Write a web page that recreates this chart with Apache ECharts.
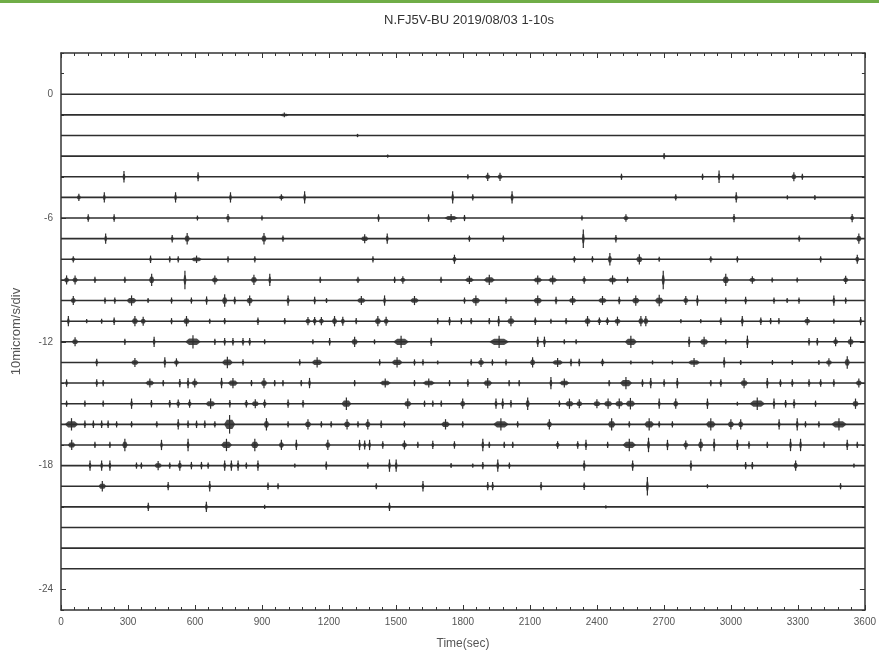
<!DOCTYPE html>
<html>
<head>
<meta charset="utf-8">
<style>
  html, body { margin: 0; padding: 0; background: #fff; }
  #chart { width: 879px; height: 655px; }
</style>
<script src="https://cdn.jsdelivr.net/npm/echarts@6/dist/echarts.min.js"></script>
</head>
<body>
<div id="chart"></div>
<script>
// hourly traces, offset downward by hour index
var hours = [];
for (var i = 0; i < 24; i++) hours.push(i);

var xTicks = [0, 300, 600, 900, 1200, 1500, 1800, 2100, 2400, 2700, 3000, 3300, 3600];
var yTicks = [0, -6, -12, -18, -24];

// events per hour: [time(sec), amplitude(div), duration(sec)]
var hourEvents = [
  [],
  [[1000, 0.12, 40]],
  [[1328, 0.08, 20]],
  [[1463, 0.08, 15], [2701, 0.15, 15]],
  [[282, 0.28, 12], [614, 0.22, 10], [1822, 0.12, 10], [1911, 0.2, 25], [1966, 0.2, 25], [2510, 0.15, 10], [2873, 0.15, 10], [2947, 0.3, 10], [3010, 0.15, 12], [3282, 0.22, 25], [3320, 0.15, 10]],
  [[80, 0.18, 20], [194, 0.25, 12], [513, 0.25, 12], [759, 0.25, 10], [987, 0.15, 25], [1091, 0.3, 10], [1754, 0.3, 12], [1844, 0.15, 12], [2020, 0.3, 15], [2753, 0.15, 15], [3024, 0.25, 12], [3253, 0.1, 8], [3376, 0.12, 10]],
  [[122, 0.18, 15], [238, 0.18, 10], [611, 0.12, 8], [748, 0.2, 20], [900, 0.12, 8], [1422, 0.18, 12], [1646, 0.18, 12], [1747, 0.2, 60], [1807, 0.15, 12], [2333, 0.12, 8], [2530, 0.18, 25], [3014, 0.2, 15], [3543, 0.2, 20]],
  [[200, 0.25, 12], [498, 0.18, 15], [565, 0.28, 25], [909, 0.28, 25], [994, 0.15, 15], [1360, 0.22, 35], [1461, 0.25, 12], [1829, 0.15, 15], [1981, 0.15, 12], [2339, 0.45, 10], [2485, 0.18, 15], [3306, 0.15, 15], [3573, 0.25, 25]],
  [[55, 0.15, 20], [401, 0.18, 10], [487, 0.15, 12], [525, 0.15, 12], [607, 0.18, 50], [748, 0.15, 12], [868, 0.15, 15], [1397, 0.15, 12], [1762, 0.22, 20], [2299, 0.15, 20], [2380, 0.15, 15], [2458, 0.3, 20], [2590, 0.25, 30], [2679, 0.12, 8], [2910, 0.15, 20], [3029, 0.15, 15], [3402, 0.15, 15], [3566, 0.22, 20]],
  [[25, 0.22, 25], [63, 0.22, 25], [152, 0.15, 15], [286, 0.15, 15], [406, 0.3, 25], [555, 0.45, 10], [689, 0.22, 30], [864, 0.25, 30], [935, 0.3, 10], [1161, 0.15, 10], [1330, 0.15, 20], [1494, 0.15, 12], [1531, 0.18, 25], [1702, 0.15, 15], [1829, 0.2, 40], [1918, 0.25, 50], [2135, 0.22, 40], [2202, 0.22, 40], [2343, 0.18, 20], [2470, 0.22, 40], [2537, 0.15, 15], [2697, 0.45, 15], [2977, 0.3, 30], [3096, 0.18, 30], [3185, 0.12, 12], [3297, 0.12, 12], [3514, 0.2, 25]],
  [[55, 0.22, 25], [197, 0.15, 10], [241, 0.15, 10], [316, 0.25, 45], [390, 0.12, 10], [495, 0.15, 12], [584, 0.15, 12], [652, 0.2, 12], [733, 0.3, 25], [778, 0.18, 15], [845, 0.25, 30], [1017, 0.25, 15], [1136, 0.18, 10], [1189, 0.12, 8], [1345, 0.22, 40], [1449, 0.25, 12], [1583, 0.22, 40], [1807, 0.15, 12], [1858, 0.25, 40], [1993, 0.15, 12], [2135, 0.25, 40], [2217, 0.18, 15], [2291, 0.22, 35], [2425, 0.22, 40], [2500, 0.18, 15], [2574, 0.25, 35], [2679, 0.28, 40], [2798, 0.22, 25], [2850, 0.25, 12], [2977, 0.15, 12], [3066, 0.18, 15], [3193, 0.15, 12], [3252, 0.12, 8], [3305, 0.15, 10], [3461, 0.25, 10], [3514, 0.15, 12]],
  [[33, 0.25, 12], [115, 0.1, 10], [182, 0.12, 10], [238, 0.18, 12], [331, 0.25, 30], [368, 0.22, 25], [495, 0.15, 12], [562, 0.25, 30], [666, 0.12, 10], [733, 0.15, 15], [882, 0.18, 15], [1002, 0.15, 15], [1106, 0.2, 25], [1136, 0.2, 20], [1166, 0.2, 25], [1225, 0.25, 25], [1262, 0.22, 20], [1322, 0.15, 12], [1419, 0.25, 30], [1456, 0.22, 25], [1687, 0.15, 10], [1740, 0.2, 12], [1793, 0.15, 12], [1837, 0.15, 15], [1918, 0.15, 12], [1960, 0.25, 10], [2015, 0.25, 35], [2124, 0.18, 15], [2194, 0.12, 10], [2262, 0.15, 15], [2358, 0.25, 30], [2411, 0.18, 20], [2447, 0.18, 20], [2492, 0.22, 30], [2597, 0.25, 25], [2619, 0.25, 25], [2776, 0.1, 10], [2865, 0.1, 10], [2955, 0.18, 15], [3051, 0.25, 15], [3134, 0.18, 15], [3178, 0.15, 12], [3215, 0.15, 12], [3342, 0.2, 30], [3461, 0.12, 10], [3581, 0.2, 12]],
  [[63, 0.22, 30], [286, 0.15, 12], [417, 0.25, 10], [591, 0.32, 70], [689, 0.15, 12], [733, 0.18, 12], [770, 0.18, 12], [815, 0.18, 15], [845, 0.18, 15], [912, 0.12, 10], [1128, 0.12, 10], [1203, 0.18, 12], [1315, 0.25, 30], [1404, 0.12, 10], [1523, 0.3, 70], [1658, 0.2, 10], [1962, 0.3, 90], [2135, 0.25, 15], [2165, 0.25, 15], [2254, 0.12, 10], [2307, 0.12, 10], [2552, 0.3, 55], [2813, 0.25, 10], [2880, 0.25, 40], [2977, 0.12, 10], [3074, 0.3, 10], [3350, 0.18, 12], [3387, 0.18, 12], [3469, 0.22, 25], [3536, 0.25, 30]],
  [[160, 0.18, 15], [331, 0.22, 35], [465, 0.25, 10], [517, 0.2, 25], [745, 0.28, 50], [815, 0.15, 10], [1069, 0.15, 12], [1147, 0.25, 50], [1427, 0.15, 12], [1505, 0.25, 50], [1583, 0.15, 12], [1621, 0.15, 12], [1687, 0.1, 10], [1837, 0.15, 12], [1881, 0.22, 30], [1932, 0.15, 12], [1993, 0.15, 12], [2112, 0.25, 25], [2224, 0.22, 50], [2284, 0.18, 12], [2321, 0.18, 12], [2425, 0.18, 20], [2552, 0.1, 10], [2649, 0.1, 10], [2738, 0.1, 10], [2835, 0.22, 55], [2970, 0.25, 12], [3044, 0.12, 10], [3186, 0.12, 10], [3275, 0.12, 10], [3394, 0.12, 10], [3439, 0.2, 30], [3521, 0.3, 25]],
  [[25, 0.18, 12], [160, 0.18, 12], [189, 0.15, 12], [398, 0.22, 40], [458, 0.15, 12], [532, 0.2, 12], [569, 0.25, 12], [599, 0.22, 30], [719, 0.25, 12], [770, 0.25, 45], [853, 0.15, 12], [909, 0.25, 30], [957, 0.15, 12], [994, 0.15, 12], [1076, 0.15, 12], [1113, 0.25, 10], [1315, 0.15, 12], [1452, 0.22, 50], [1583, 0.15, 12], [1647, 0.22, 55], [1740, 0.15, 12], [1822, 0.18, 12], [1911, 0.25, 40], [2007, 0.15, 12], [2052, 0.15, 12], [2194, 0.3, 12], [2254, 0.22, 45], [2455, 0.15, 15], [2530, 0.3, 55], [2604, 0.18, 12], [2641, 0.25, 12], [2701, 0.18, 12], [2760, 0.25, 10], [2910, 0.15, 15], [2955, 0.18, 15], [3059, 0.25, 35], [3163, 0.25, 12], [3222, 0.18, 15], [3275, 0.18, 15], [3350, 0.18, 15], [3402, 0.18, 15], [3461, 0.18, 12], [3573, 0.22, 30]],
  [[25, 0.15, 12], [107, 0.15, 12], [189, 0.15, 12], [316, 0.25, 10], [405, 0.18, 12], [487, 0.18, 15], [525, 0.2, 20], [576, 0.2, 20], [670, 0.25, 45], [756, 0.18, 12], [830, 0.18, 20], [870, 0.22, 35], [912, 0.2, 20], [1017, 0.2, 15], [1084, 0.18, 15], [1278, 0.3, 45], [1553, 0.25, 35], [1628, 0.15, 12], [1665, 0.15, 12], [1703, 0.15, 12], [1799, 0.25, 25], [1948, 0.25, 15], [1978, 0.25, 15], [2015, 0.18, 12], [2090, 0.3, 20], [2232, 0.15, 15], [2277, 0.25, 40], [2321, 0.22, 30], [2400, 0.22, 35], [2450, 0.25, 40], [2500, 0.25, 40], [2550, 0.28, 45], [2679, 0.25, 12], [2753, 0.25, 25], [2895, 0.25, 10], [3029, 0.1, 10], [3118, 0.3, 70], [3193, 0.25, 12], [3245, 0.18, 15], [3283, 0.22, 15], [3379, 0.15, 12], [3558, 0.25, 30]],
  [[47, 0.3, 60], [107, 0.18, 12], [145, 0.18, 12], [182, 0.18, 12], [211, 0.18, 12], [249, 0.15, 12], [316, 0.15, 12], [429, 0.15, 15], [525, 0.25, 12], [569, 0.18, 12], [607, 0.18, 12], [644, 0.18, 12], [689, 0.15, 15], [755, 0.45, 50], [920, 0.3, 25], [1017, 0.15, 12], [1106, 0.25, 30], [1166, 0.15, 12], [1210, 0.15, 12], [1281, 0.25, 30], [1330, 0.15, 12], [1374, 0.25, 25], [1434, 0.18, 12], [1538, 0.15, 15], [1722, 0.25, 40], [1799, 0.15, 12], [1970, 0.3, 70], [2045, 0.15, 12], [2187, 0.25, 25], [2466, 0.3, 35], [2545, 0.15, 12], [2634, 0.3, 45], [2679, 0.15, 12], [2738, 0.15, 12], [2910, 0.3, 45], [3000, 0.25, 30], [3044, 0.25, 25], [3216, 0.25, 10], [3297, 0.3, 10], [3334, 0.15, 12], [3394, 0.15, 12], [3484, 0.3, 70]],
  [[48, 0.25, 35], [152, 0.15, 12], [219, 0.15, 12], [286, 0.3, 25], [450, 0.25, 10], [569, 0.3, 12], [741, 0.3, 50], [868, 0.3, 35], [987, 0.25, 25], [1054, 0.25, 10], [1195, 0.25, 25], [1337, 0.25, 12], [1360, 0.22, 12], [1382, 0.25, 12], [1441, 0.18, 12], [1538, 0.22, 25], [1598, 0.15, 12], [1665, 0.2, 10], [1762, 0.18, 12], [1889, 0.3, 12], [1918, 0.15, 12], [1985, 0.15, 12], [2023, 0.15, 12], [2224, 0.18, 20], [2314, 0.18, 15], [2351, 0.25, 10], [2448, 0.15, 12], [2545, 0.3, 60], [2631, 0.35, 15], [2716, 0.25, 10], [2798, 0.22, 25], [2865, 0.3, 25], [2925, 0.3, 10], [3029, 0.25, 15], [3081, 0.18, 12], [3163, 0.15, 12], [3267, 0.3, 10], [3312, 0.3, 12], [3417, 0.15, 12], [3521, 0.25, 10], [3566, 0.15, 12]],
  [[130, 0.25, 10], [182, 0.25, 10], [219, 0.25, 10], [338, 0.15, 12], [360, 0.15, 12], [435, 0.22, 35], [487, 0.15, 12], [532, 0.25, 20], [584, 0.18, 12], [629, 0.18, 12], [659, 0.15, 12], [733, 0.25, 12], [763, 0.25, 12], [793, 0.25, 12], [830, 0.15, 12], [882, 0.25, 10], [1047, 0.1, 10], [1188, 0.2, 10], [1374, 0.15, 12], [1471, 0.3, 12], [1501, 0.3, 12], [1747, 0.12, 10], [1844, 0.1, 10], [1889, 0.18, 12], [1956, 0.3, 10], [2008, 0.15, 10], [2343, 0.25, 15], [2560, 0.25, 10], [2821, 0.25, 10], [3066, 0.18, 12], [3096, 0.18, 12], [3290, 0.25, 20], [3551, 0.1, 10]],
  [[185, 0.25, 35], [480, 0.2, 10], [666, 0.25, 10], [927, 0.18, 12], [972, 0.15, 12], [1412, 0.15, 12], [1621, 0.25, 10], [1911, 0.2, 10], [1933, 0.2, 10], [2150, 0.2, 10], [2343, 0.18, 12], [2626, 0.45, 12], [2895, 0.1, 10], [3491, 0.15, 12]],
  [[391, 0.2, 12], [651, 0.25, 10], [912, 0.1, 10], [1471, 0.2, 10], [2440, 0.08, 10]],
  [],
  [],
  []
];

(function() {
  var ink = '#333';
  var label = '#555';
  var traceColor = '#2e2e2e';
  var font = '"Liberation Sans", Arial, sans-serif';

  var eventData = [];
  hourEvents.forEach(function(list, h) {
    list.forEach(function(e) { eventData.push([e[0], h, e[1], e[2]]); });
  });

  var baseSeries = hours.map(function(h) {
    return {
      type: 'line', xAxisIndex: 0, yAxisIndex: 0, silent: true,
      symbol: 'none', data: [[0, -h], [3600, -h]],
      lineStyle: { color: traceColor, width: 1.6 }
    };
  });

  function renderEvent(params, api) {
    var t = api.value(0), h = api.value(1), a = api.value(2), w = api.value(3);
    var c = api.coord([t, -h]);
    var unit = c[1] - api.coord([t, -h + 1])[1];
    var ap = a * unit;
    var hw = Math.max(1.5, api.coord([t + w / 2, -h])[0] - c[0]);
    var ry = ap * 0.5;
    return {
      type: 'group',
      children: [
        {
          type: 'polygon',
          shape: { points: [
            [c[0] - hw, c[1]], [c[0] - hw * 0.5, c[1] - ry], [c[0] + hw * 0.5, c[1] - ry],
            [c[0] + hw, c[1]], [c[0] + hw * 0.5, c[1] + ry], [c[0] - hw * 0.5, c[1] + ry]
          ] },
          style: { fill: traceColor, opacity: 0.85 }
        },
        {
          type: 'line',
          shape: { x1: c[0], y1: c[1] - ap, x2: c[0], y2: c[1] + ap },
          style: { stroke: traceColor, lineWidth: 1.2 }
        }
      ]
    };
  }

  var axisLine = { show: true, onZero: false, lineStyle: { color: ink, width: 1.5 } };
  var noLine = { show: false, onZero: false };

  var chart = echarts.init(document.getElementById('chart'), null, { renderer: 'canvas' });
  chart.setOption({
    animation: false,
    backgroundColor: '#fff',
    textStyle: { fontFamily: font },
    title: {
      text: 'N.FJ5V-BU 2019/08/03 1-10s', left: 464, top: 9, textAlign: 'center',
      textStyle: { color: ink, fontSize: 13, fontWeight: 'normal', fontFamily: font }
    },
    graphic: [
      { type: 'rect', left: 0, top: 0, shape: { width: 879, height: 3 }, style: { fill: '#70ad47' } }
    ],
    grid: { left: 61, right: 12, top: 53, bottom: 44 },
    xAxis: [
      {
        type: 'value', position: 'bottom', min: 0, max: 3600, interval: 300,
        axisLine: axisLine,
        axisTick: { inside: true, length: 5, lineStyle: { color: ink } },
        minorTick: { show: true, splitNumber: 5, length: 3, lineStyle: { color: ink } },
        axisLabel: { color: label, fontSize: 10, margin: 7,
          formatter: function(v) { return xTicks.indexOf(v) >= 0 ? String(v) : ''; } },
        splitLine: { show: false },
        name: 'Time(sec)', nameLocation: 'middle', nameGap: 28,
        nameTextStyle: { color: label, fontSize: 12 }
      },
      {
        type: 'value', position: 'top', min: 0, max: 3600, interval: 300,
        axisLine: axisLine,
        axisTick: { inside: true, length: 5, lineStyle: { color: ink } },
        minorTick: { show: true, splitNumber: 5, length: 3, lineStyle: { color: ink } },
        axisLabel: { show: false }, splitLine: { show: false }
      }
    ],
    yAxis: [
      {
        type: 'value', position: 'left', min: -25, max: 2,
        axisLine: axisLine,
        axisTick: { inside: true, length: 5, customValues: yTicks, lineStyle: { color: ink } },
        axisLabel: { color: label, fontSize: 10, margin: 8, customValues: yTicks },
        splitLine: { show: false },
        name: '10microm/s/div', nameLocation: 'middle', nameGap: 38, nameRotate: 90,
        nameTextStyle: { color: label, fontSize: 13 }
      },
      {
        type: 'value', position: 'left', min: -25, max: 2, interval: 1,
        axisLine: noLine,
        axisTick: { inside: true, length: 3, lineStyle: { color: ink } },
        axisLabel: { show: false }, splitLine: { show: false }
      },
      {
        type: 'value', position: 'right', min: -25, max: 2,
        axisLine: axisLine,
        axisTick: { inside: true, length: 5, customValues: yTicks, lineStyle: { color: ink } },
        axisLabel: { show: false }, splitLine: { show: false }
      },
      {
        type: 'value', position: 'right', min: -25, max: 2, interval: 1,
        axisLine: noLine,
        axisTick: { inside: true, length: 3, lineStyle: { color: ink } },
        axisLabel: { show: false }, splitLine: { show: false }
      }
    ],
    series: baseSeries.concat([{
      type: 'custom', xAxisIndex: 0, yAxisIndex: 0, silent: true,
      renderItem: renderEvent, data: eventData
    }])
  });
})();
</script>
</body>
</html>
